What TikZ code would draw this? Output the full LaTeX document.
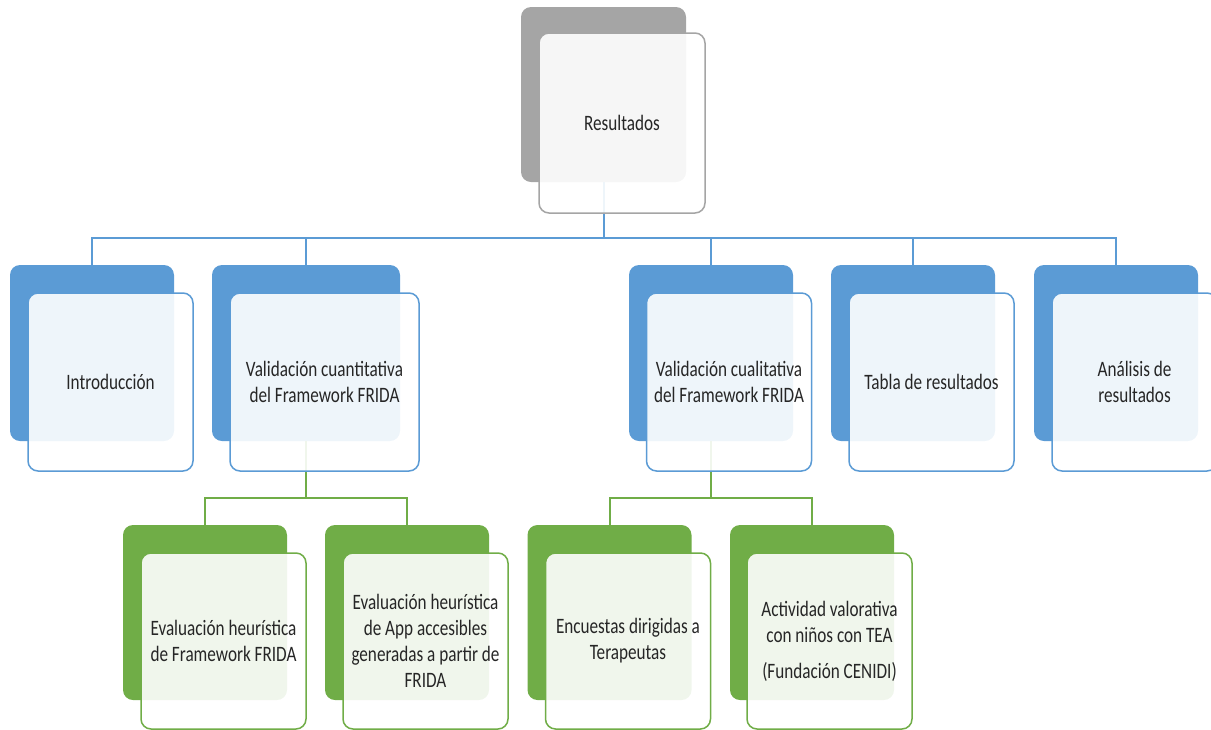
\documentclass[tikz,border=0pt]{standalone}
\usepackage{fontspec}
\setmainfont{Carlito}[FakeStretch=0.78]
\usepackage{tikz}
\usetikzlibrary{positioning,calc}
\definecolor{hBlue}{HTML}{5B9BD5}
\definecolor{hGreen}{HTML}{70AD47}
\definecolor{hGray}{HTML}{A5A5A5}
\definecolor{hText}{HTML}{262626}
\tikzset{
  % coloured card lying behind
  backcard/.style={rounded corners=5pt, inner sep=0pt,
    minimum width=82pt, minimum height=88pt},
  backgray/.style={backcard, fill=hGray},
  backblue/.style={backcard, fill=hBlue},
  backgreen/.style={backcard, fill=hGreen},
  % white, slightly see-through card carrying the text
  frontcard/.style={rounded corners=5pt, inner sep=2pt, line width=0.75pt,
    fill=white, fill opacity=0.9, text opacity=1, text=hText,
    minimum width=82.5pt, minimum height=89pt, align=center,
    font=\fontsize{11}{13}\selectfont},
  frontgray/.style={frontcard, draw=hGray},
  frontblue/.style={frontcard, draw=hBlue},
  frontgreen/.style={frontcard, draw=hGreen},
  % tree links
  bluelink/.style={line width=1pt, hBlue},
  greenlink/.style={line width=1pt, hGreen},
}

\begin{document}
\begin{tikzpicture}[x=0.5pt, y=-0.5pt]
  \useasboundingbox (0,0) rectangle (1211,729);
  % --- back cards ---
  \node[backgray, minimum width=82.5pt, minimum height=87.5pt] (res-b) at (603.5,94.5) {};
  \node[backblue] (intro-b) at (92,353) {};
  \node[backblue, minimum width=94pt] (cuant-b) at (306,353) {};
  \node[backblue] (cual-b) at (711,353) {};
  \node[backblue] (tabla-b) at (913,353) {};
  \node[backblue] (anal-b) at (1116,353) {};
  \node[backgreen, minimum height=87.5pt] (evfw-b) at (205,612.5) {};
  \node[backgreen, minimum height=87.5pt] (evapp-b) at (407,612.5) {};
  \node[backgreen, minimum height=87.5pt] (encu-b) at (609.5,612.5) {};
  \node[backgreen, minimum height=87.5pt] (acti-b) at (812,612.5) {};
  % --- links ---
  \coordinate (resbus) at (603.5,238);
  \draw[bluelink] (res-b.south) -- (resbus);
  \foreach \kid in {intro-b,cuant-b,cual-b,tabla-b,anal-b}
    \draw[bluelink] (resbus) -| (\kid.north);
  \coordinate (cuantbus) at (306,498);
  \draw[greenlink] (cuant-b.south) -- (cuantbus);
  \draw[greenlink] (cuantbus) -| (evfw-b.north);
  \draw[greenlink] (cuantbus) -| (evapp-b.north);
  \coordinate (cualbus) at (711,498);
  \draw[greenlink] (cual-b.south) -- (cualbus);
  \draw[greenlink] (cualbus) -| (encu-b.north);
  \draw[greenlink] (cualbus) -| (acti-b.north);
  % --- front cards with the texts ---
  \node[frontgray, minimum width=83pt, minimum height=90pt] (res) at (622,123) {Resultados};
  \node[frontblue] (intro) at (110.5,382) {Introducción};
  \node[frontblue, minimum width=94.5pt] (cuant) at (324.5,382)
    {Validación cuantitativa\\del Framework FRIDA};
  \node[frontblue] (cual) at (729,382)
    {Validación cualitativa\\del Framework FRIDA};
  \node[frontblue] (tabla) at (931.5,382) {Tabla de resultados};
  \node[frontblue] (anal) at (1134.5,382) {Análisis de\\resultados};
  \node[frontgreen, minimum height=88pt] (evfw) at (223.5,641)
    {Evaluación heurística\\de Framework FRIDA};
  \node[frontgreen, minimum height=88pt] (evapp) at (425.5,641)
    {Evaluación heurística\\de App accesibles\\generadas a partir de\\FRIDA};
  \node[frontgreen, minimum height=88pt] (encu) at (628,641)
    {Encuestas dirigidas a\\Terapeutas};
  \node[frontgreen, minimum height=88pt] (acti) at (829.5,641)
    {Actividad valorativa\\con niños con TEA\\[5pt](Fundación CENIDI)};
\end{tikzpicture}
\end{document}
